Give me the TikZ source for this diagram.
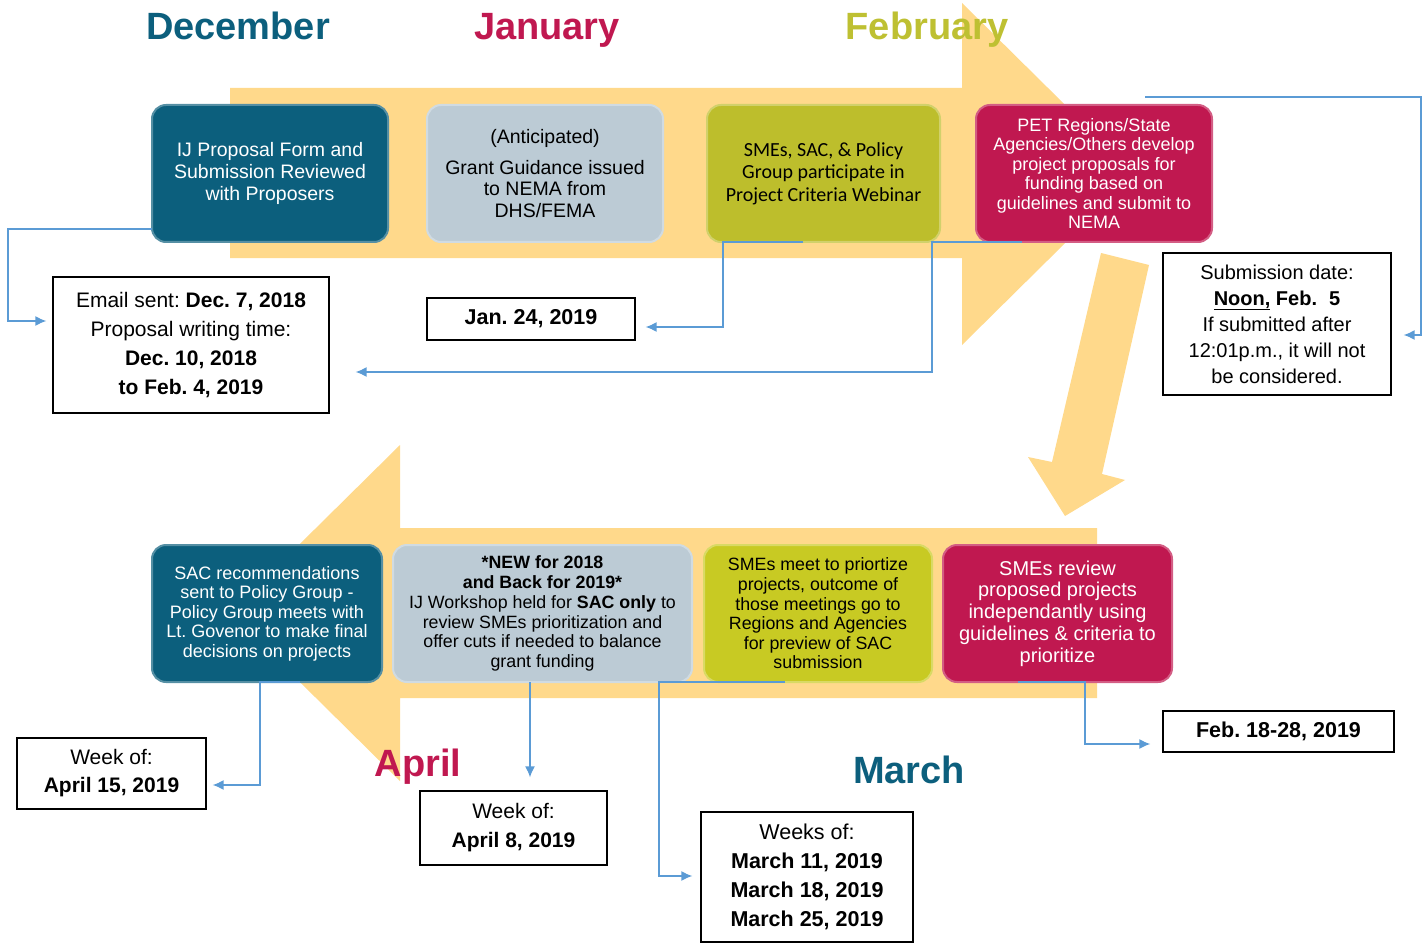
\documentclass[tikz,border=0pt]{standalone}
\usepackage{fontspec}
\setmainfont{Liberation Sans}
\newfontfamily\calfont{Carlito}
\usetikzlibrary{positioning,arrows.meta}
\definecolor{band}{RGB}{255,217,139}
\definecolor{decteal}{RGB}{12,95,125}
\definecolor{steel}{RGB}{188,203,213}
\definecolor{olivegreen}{RGB}{189,190,44}
\definecolor{limegreen}{RGB}{200,202,35}
\definecolor{crimson}{RGB}{192,24,80}
\definecolor{olivetext}{RGB}{190,192,50}
\definecolor{linkblue}{RGB}{91,155,213}
\frenchspacing

\begin{document}
\begin{tikzpicture}[x=1pt,y=-1pt,
  stage/.style={rounded corners=14pt,minimum height=137pt,inner sep=0pt,outer sep=0pt,align=center,fill=#1,draw=#1!70!white,line width=2pt},
  datebox/.style={draw=black,fill=white,line width=1.2pt,align=center,inner sep=0pt},
  month/.style={font=\fontsize{38}{40}\selectfont\bfseries,anchor=base},
  link/.style={draw=linkblue,line width=1.6pt,-{Latex[length=11pt,width=10pt]}}]

\useasboundingbox (0,0) rectangle (1427,944);

\fill[band](230,88)--(962,88)--(962,3)--(1135,174)--(962,345)--(962,258)--(230,258)--cycle;
\fill[band](1097,528)--(400,528)--(400,445)--(230,613)--(400,781)--(400,698)--(1097,698)--cycle;
\fill[band](1101,253)--(1149,265)--(1102,474)--(1125,480)--(1065,516)--(1028,457)--(1052,462)--cycle;

\node[stage=decteal,minimum width=236pt,text=white,font=\fontsize{19.5}{22}\selectfont](dec)at(270,173.5){IJ Proposal Form and\\Submission Reviewed\\with Proposers};
\node[stage=steel,minimum width=236pt,font=\fontsize{19.5}{21.5}\selectfont](jan)[right=39pt of dec]{(Anticipated)\\[9pt]Grant Guidance issued\\to NEMA from\\DHS/FEMA};
\node[stage=olivegreen,minimum width=233pt,font=\calfont\fontsize{20}{22.5}\selectfont](web)[right=44pt of jan]{SMEs, SAC, \& Policy\\Group participate in\\Project Criteria Webinar};
\node[stage=crimson,minimum width=236pt,text=white,font=\fontsize{18}{19.5}\selectfont](pet)[right=36pt of web]{PET Regions/State\\Agencies/Others develop\\project proposals for\\funding based on\\guidelines and submit to\\NEMA};

\node[stage=decteal,minimum width=230pt,text=white,font=\fontsize{18}{19.5}\selectfont](sac)at(267,613.5){SAC recommendations\\sent to Policy Group -\\Policy Group meets with\\Lt. Govenor to make final\\decisions on projects};
\node[stage=steel,minimum width=299pt,font=\fontsize{17.8}{19.8}\selectfont](wks)[right=11pt of sac]{\textbf{*NEW for 2018}\\\textbf{and Back for 2019*}\\IJ Workshop held for \textbf{SAC only} to\\review SMEs prioritization and\\offer cuts if needed to balance\\grant funding};
\node[stage=limegreen,minimum width=228pt,font=\fontsize{17.8}{19.6}\selectfont](pri)[right=12pt of wks]{SMEs meet to priortize\\projects, outcome of\\those meetings go to\\Regions and Agencies\\for preview of SAC\\submission};
\node[stage=crimson,minimum width=229pt,text=white,font=\fontsize{20}{21.8}\selectfont](rev)[right=11pt of pri]{SMEs review\\proposed projects\\independantly using\\guidelines \& criteria to\\prioritize};

\node[month,text=decteal](mdec)at(238,40){December};
\node[month,text=crimson](mjan)at(547,40){January};
\node[month,text=olivetext](mfeb)at(927,40){February};
\node[month,text=crimson](mapr)at(418,776){April};
\node[month,text=decteal](mmar)at(909,783){March};

\node[datebox,minimum width=276pt,minimum height=136pt,font=\fontsize{21}{29}\selectfont](email)at(191,345){Email sent: \textbf{Dec. 7, 2018}\\Proposal writing time:\\\textbf{Dec. 10, 2018}\\\textbf{to Feb. 4, 2019}};
\node[datebox,minimum width=208pt,minimum height=42pt,font=\fontsize{21.5}{26}\selectfont\bfseries](jdate)at(531,319){Jan. 24, 2019};
\node[datebox,minimum width=228pt,minimum height=142pt,font=\fontsize{20}{26}\selectfont](sub)at(1277,324){Submission date:\\\textbf{\underline{Noon,} Feb.\hspace{12pt}5}\\If submitted after\\12:01p.m., it will not\\be considered.};
\node[datebox,minimum width=189pt,minimum height=71pt,font=\fontsize{21}{28}\selectfont](wk15)at(111.5,773.5){Week of:\\\textbf{April 15, 2019}};
\node[datebox,minimum width=187pt,minimum height=74pt,font=\fontsize{21}{29}\selectfont](wk8)at(513.5,828){Week of:\\\textbf{April 8, 2019}};
\node[datebox,minimum width=212pt,minimum height=130pt,font=\fontsize{21.5}{29}\selectfont](wkm)at(807,877){Weeks of:\\\textbf{March 11, 2019}\\\textbf{March 18, 2019}\\\textbf{March 25, 2019}};
\node[datebox,minimum width=231pt,minimum height=41pt,font=\fontsize{21.5}{26}\selectfont\bfseries](fdate)at(1278.5,731.5){Feb. 18-28, 2019};

\coordinate (pettop) at (1145,97);
\draw[link,shorten >=6pt](dec.west|-0,229)-|(8,321)--(email.west|-0,321);
\draw[link,shorten >=10pt](web.south-|803,0)-|(723,327)--(jdate.east|-0,327);
\draw[link,shorten >=26pt](pet.south-|1022,0)-|(932,372)--(email.east|-0,372);
\draw[link,shorten >=12pt](pettop)-|(1421,335)--(sub.east|-0,335);
\draw[link,shorten >=6pt](sac.south-|300,0)-|(260,785)--(wk15.east|-0,785);
\draw[link,shorten >=13pt](wks.south-|530,0)--(wk8.north-|530,0);
\draw[link,shorten >=8pt](pri.south-|785,0)-|(659,876)--(wkm.west|-0,876);
\draw[link,shorten >=12pt](rev.south-|1018,0)-|(1085,744)--(fdate.west|-0,744);

\end{tikzpicture}
\end{document}
